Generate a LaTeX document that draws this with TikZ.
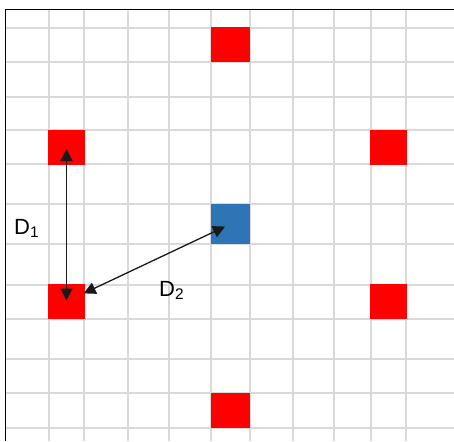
\documentclass[tikz,border=0pt]{standalone}
\usepackage{fontspec}
\setmainfont{Liberation Sans}
\usepackage{xcolor}
\usetikzlibrary{arrows.meta,positioning}

\definecolor{gridgray}{HTML}{D9D9D9}
\definecolor{cellred}{HTML}{FF0000}
\definecolor{cellblue}{HTML}{2E75B6}

\begin{document}
\begin{tikzpicture}[
    x=1pt, y=-1pt,
    gridline/.style={gridgray, line width=1.5pt},
    cell/.style={inner sep=0pt, outer sep=0pt, minimum width=37pt, minimum height=35pt},
    target/.style={cell, fill=cellred},
    mid/.style={minimum width=39pt},
    dist/.style={{Triangle[length=12pt,width=12pt]}-{Triangle[length=12pt,width=12pt]},
                 line width=1.3pt, black!90},
    lbl/.style={inner sep=0pt, anchor=base west, font=\fontsize{22}{26}\selectfont}
]
\useasboundingbox (0,0) rectangle (454,441);
% grid
\foreach \x in {49,84,128,169,211,250,293,334,371,406}
    \draw[gridline] (\x,9.5) -- (\x,441);
\foreach \y in {28,62,97,130,164,204,244,285,319,359,393,428}
    \draw[gridline] (5.5,\y) -- (454,\y);
\draw[line width=1.8pt] (5.5,441) -- (5.5,9.5) -- (454,9.5);
% cells
\node[target, mid] (redT)  at (230.5,45) {};
\node[target]      (redUL) at (66.5,147) {};
\node[target]      (redUR) at (388.5,147) {};
\node[cell, mid, fill=cellblue, minimum height=40pt] (blue) at (230.5,224) {};
\node[target]      (redLL) at (66.5,301.5) {};
\node[target]      (redLR) at (388.5,301.5) {};
\node[target, mid] (redB)  at (230.5,410.5) {};
% distances
\draw[dist, shorten <=2pt, shorten >=1pt] (redUL.center) -- (redLL.center);
\draw[dist, shorten <=19pt, shorten >=6pt] (redLL.center) -- (blue.center);
\node[lbl] (d1) at (14,234) {D\textsubscript{1}};
\node[lbl] (d2) at (159,296) {D\textsubscript{2}};
\end{tikzpicture}
\end{document}
